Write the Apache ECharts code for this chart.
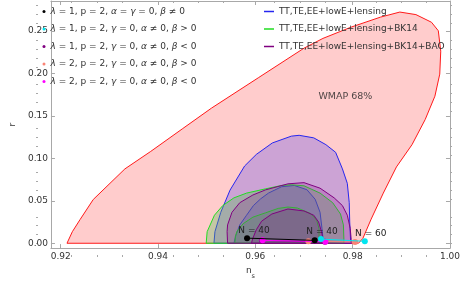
<!DOCTYPE html>
<html>
<head>
<meta charset="utf-8">
<script src="https://cdn.jsdelivr.net/npm/echarts@6/dist/echarts.min.js"></script>
<style>html,body{margin:0;padding:0;background:#fff;}#c{width:463px;height:285px;}</style>
</head>
<body>
<div id="c"></div>
<script>
// ---------- data ----------
const xMajorTicks = [0.92, 0.94, 0.96, 0.98, 1.00];
const xMinorTicks = [0.925, 0.93, 0.935, 0.945, 0.95, 0.955, 0.965, 0.97, 0.975, 0.985, 0.99, 0.995];
const yMajorTicks = [0.00, 0.05, 0.10, 0.15, 0.20, 0.25];
const yMinorTicks = [0.01, 0.02, 0.03, 0.04, 0.06, 0.07, 0.08, 0.09, 0.11, 0.12, 0.13, 0.14,
                     0.16, 0.17, 0.18, 0.19, 0.21, 0.22, 0.23, 0.24, 0.26, 0.27, 0.28];

// contours: [n_s, r]
const wmap68 = [[0.9213,0.000],[0.9224,0.0136],[0.9240,0.028],[0.9267,0.0515],[0.9332,0.0875],[0.9385,0.108],
  [0.9451,0.135],[0.9510,0.159],[0.9607,0.195],[0.9700,0.2295],[0.9739,0.241],[0.9798,0.2545],[0.9857,0.266],
  [0.9897,0.272],[0.9930,0.269],[0.9962,0.260],[0.9976,0.250],[0.9981,0.226],[0.9979,0.199],[0.9969,0.173],
  [0.9949,0.1455],[0.9922,0.116],[0.9890,0.0898],[0.9863,0.059],[0.9838,0.0284],[0.9821,0.0057],[0.9812,0.000]];
const planckOuter = [[0.9515,0.0],[0.9517,0.0136],[0.9529,0.0364],[0.9548,0.0625],[0.9578,0.0909],[0.9602,0.1045],
  [0.9635,0.118],[0.9674,0.126],[0.9690,0.127],[0.9720,0.124],[0.9745,0.116],[0.9765,0.107],[0.9779,0.0875],
  [0.9789,0.0705],[0.9793,0.0477],[0.9794,0.025],[0.9796,0.0]];
const planckInner = [[0.9556,0.0],[0.9560,0.009],[0.9568,0.0216],[0.9582,0.033],[0.9596,0.0443],[0.9611,0.0523],
  [0.9627,0.059],[0.9654,0.0665],[0.9680,0.068],[0.9706,0.063],[0.9723,0.0517],[0.9733,0.0364],[0.9737,0.0174],
  [0.9739,0.006],[0.9740,0.0]];
const bk14Outer = [[0.9499,0.0],[0.9501,0.0136],[0.9516,0.033],[0.9533,0.0443],[0.9556,0.0534],[0.9582,0.059],
  [0.9621,0.064],[0.9654,0.068],[0.9674,0.0688],[0.9700,0.0676],[0.9733,0.059],[0.9759,0.0477],[0.9775,0.0344],
  [0.9781,0.0216],[0.9782,0.0045],[0.9782,0.0]];
const bk14Inner = [[0.9558,0.0],[0.9559,0.008],[0.9562,0.0136],[0.9575,0.023],[0.9595,0.0307],[0.9621,0.0358],
  [0.9647,0.041],[0.9667,0.0426],[0.9686,0.0415],[0.9713,0.0352],[0.9726,0.0273],[0.9731,0.017],[0.9731,0.0068],[0.9731,0.0]];
const baoOuter = [[0.9543,0.0],[0.9542,0.0136],[0.9543,0.0216],[0.9552,0.0364],[0.9568,0.0477],[0.9595,0.0568],
  [0.9621,0.0628],[0.9667,0.0699],[0.9700,0.0713],[0.9733,0.0648],[0.9762,0.0534],[0.9779,0.0443],[0.9789,0.033],
  [0.9795,0.0174],[0.9797,0.0045],[0.9798,0.0]];
const baoInner = [[0.9592,0.0],[0.9595,0.006],[0.9602,0.0159],[0.9613,0.026],[0.9634,0.0344],[0.9667,0.0403],
  [0.9700,0.038],[0.9720,0.033],[0.9730,0.025],[0.9736,0.0136],[0.9739,0.0057],[0.9740,0.0]];

// model predictions (N = 40 .. 60)
const blackNs = [0.9583, 0.9722],   blackR = [0.0060, 0.0034];
const cyanNs = [0.9735, 0.9825],    cyanR = [0.0049, 0.0023];
const purpleNs = [0.9614, 0.9743],  purpleR = [0.0031, 0.0017];
const salmonNs = [0.9709, 0.9805],  salmonR = [0.0023, 0.0015];
const magentaNs = [0.9615, 0.9744], magentaR = [0.0034, 0.0019];
const blackLabels = ['N = 40', ''];
const cyanLabels = ['N = 40', 'N = 60'];
const wmapLabelPos = [[0.9785, 0.1727]];

const contourNames = ['TT,TE,EE+lowE+lensing', 'TT,TE,EE+lowE+lensing+BK14', 'TT,TE,EE+lowE+lensing+BK14+BAO'];
const pointNames = ['\u03bb = 1, p = 2, \u03b1 = \u03b3 = 0, \u03b2 \u2260 0',
                    '\u03bb = 1, p = 2, \u03b3 = 0, \u03b1 \u2260 0, \u03b2 > 0',
                    '\u03bb = 1, p = 2, \u03b3 = 0, \u03b1 \u2260 0, \u03b2 < 0',
                    '\u03bb = 2, p = 2, \u03b3 = 0, \u03b1 \u2260 0, \u03b2 > 0',
                    '\u03bb = 2, p = 2, \u03b3 = 0, \u03b1 \u2260 0, \u03b2 < 0'];

// ---------- chart ----------
const FONT = 'DejaVu Sans';
const FRAME = '#a8a8a8';
const TXT = '#333';
const X_MIN = 0.918, X_MAX = 1.0, Y_MIN = -0.0057, Y_MAX = 0.285;

function contourSeries(name, pts, fill, stroke, z) {
  return {
    type: 'custom', name, xAxisIndex: 0, yAxisIndex: 0, z, silent: true, animation: false,
    itemStyle: { color: stroke }, data: pts, encode: { x: 0, y: 1 },
    renderItem(params, api) {
      if (params.dataIndex !== 0) return null;
      return { type: 'polygon', shape: { points: pts.map(p => api.coord(p)) },
               style: { fill, stroke, lineWidth: 1 } };
    }
  };
}
function pointSeries(name, ns, r, color, labels, offsets, z) {
  return {
    type: 'line', name, xAxisIndex: 0, yAxisIndex: 0, z, animation: false, silent: true,
    symbol: 'circle', symbolSize: 6, showSymbol: true,
    itemStyle: { color }, lineStyle: { color, width: 1 },
    data: ns.map((x, i) => ({
      value: [x, r[i]],
      label: (labels && labels[i]) ? { show: true, formatter: labels[i], position: 'top', distance: 0,
        offset: offsets[i], color: '#222', fontSize: 9, fontFamily: FONT } : { show: false }
    }))
  };
}
function xAx(gi, pos, major, show) {
  return { type: 'value', gridIndex: gi, min: X_MIN, max: X_MAX, position: pos,
    axisLine: { show: show, onZero: false, lineStyle: { color: FRAME, width: 1 } },
    axisTick: { show: true, inside: true, length: major ? 4 : 2, customValues: major ? xMajorTicks : xMinorTicks,
      lineStyle: { color: FRAME } },
    axisLabel: { show: major && pos === 'bottom', customValues: xMajorTicks, formatter: v => v.toFixed(2),
      fontSize: 9, fontFamily: FONT, color: TXT, margin: 4, showMaxLabel: true, showMinLabel: true },
    splitLine: { show: false },
    name: (major && pos === 'bottom') ? '{n|n}{s|s}' : '', nameLocation: 'middle', nameGap: 15,
    nameTextStyle: { fontFamily: FONT, color: TXT, fontSize: 9,
      rich: { n: { fontSize: 9, fontFamily: FONT, color: TXT, verticalAlign: 'top' },
              s: { fontSize: 6.5, fontFamily: FONT, color: TXT, padding: [7, 0, 0, 0] } } }
  };
}
function yAx(gi, pos, major, show) {
  return { type: 'value', gridIndex: gi, min: Y_MIN, max: Y_MAX, position: pos,
    axisLine: { show: show, onZero: false, lineStyle: { color: FRAME, width: 1 } },
    axisTick: { show: true, inside: true, length: major ? 4 : 2, customValues: major ? yMajorTicks : yMinorTicks,
      lineStyle: { color: FRAME } },
    axisLabel: { show: major && pos === 'left', customValues: yMajorTicks, formatter: v => v.toFixed(2),
      fontSize: 9, fontFamily: FONT, color: TXT, margin: 3, showMaxLabel: true, showMinLabel: true },
    splitLine: { show: false },
    name: (major && pos === 'left') ? 'r' : '', nameLocation: 'middle', nameGap: 27, nameRotate: 90,
    nameTextStyle: { fontFamily: FONT, color: TXT, fontSize: 9 }
  };
}

const gridBox = { left: 36, right: 11, top: 1, bottom: 28 };
const italicGreek = s => s.replace(/([\u03bb\u03b1\u03b3\u03b2])/g, '{i|$1}');

const option = {
  backgroundColor: '#fff',
  animation: false,
  grid: [Object.assign({}, gridBox), Object.assign({}, gridBox)],
  xAxis: [xAx(0, 'bottom', true, true), xAx(0, 'top', true, true), xAx(1, 'bottom', false, false), xAx(1, 'top', false, false)],
  yAxis: [yAx(0, 'left', true, true), yAx(0, 'right', true, true), yAx(1, 'left', false, false), yAx(1, 'right', false, false)],
  legend: [
    { orient: 'vertical', left: 42.5, top: 5.5, padding: 0, itemGap: 5.5, itemWidth: 3, itemHeight: 3,
      selectedMode: false,
      data: pointNames.map(n => ({ name: n, icon: 'circle' })),
      formatter: italicGreek,
      textStyle: { fontFamily: FONT, fontSize: 9, color: TXT, lineHeight: 12,
        rich: { i: { fontFamily: FONT, fontSize: 9, color: TXT, fontStyle: 'italic', lineHeight: 12 } } } },
    { orient: 'vertical', left: 264, top: 5.5, padding: 0, itemGap: 5.5, itemWidth: 10, itemHeight: 1.5,
      selectedMode: false,
      data: contourNames.map(n => ({ name: n, icon: 'rect' })),
      textStyle: { fontFamily: FONT, fontSize: 9, color: TXT, lineHeight: 12 } }
  ],
  series: [
    contourSeries('WMAP', wmap68, 'rgba(255,0,0,0.2)', '#ff1a1a', 1),
    contourSeries(contourNames[0], planckOuter, 'rgba(100,80,230,0.33)', '#2626f0', 2),
    contourSeries(contourNames[0], planckInner, 'rgba(100,80,230,0.33)', '#2626f0', 2),
    contourSeries(contourNames[1], bk14Outer, 'rgba(90,190,90,0.35)', '#22dd22', 3),
    contourSeries(contourNames[1], bk14Inner, 'rgba(90,190,90,0.35)', '#22dd22', 3),
    contourSeries(contourNames[2], baoOuter, 'rgba(128,0,128,0.2)', '#800080', 4),
    contourSeries(contourNames[2], baoInner, 'rgba(128,0,128,0.2)', '#800080', 4),
    pointSeries(pointNames[3], salmonNs, salmonR, '#f98476', null, null, 10),
    pointSeries(pointNames[2], purpleNs, purpleR, '#800080', null, null, 10),
    pointSeries(pointNames[4], magentaNs, magentaR, '#ff00ff', null, null, 11),
    pointSeries(pointNames[0], blackNs, blackR, '#000000', blackLabels, [[7, 0], [0, 0]], 12),
    pointSeries(pointNames[1], cyanNs, cyanR, '#00e6f0', cyanLabels, [[1, 0], [6, 0]], 13),
    { type: 'scatter', xAxisIndex: 0, yAxisIndex: 0, z: 14, silent: true, symbolSize: 0,
      data: wmapLabelPos,
      label: { show: true, position: 'inside', formatter: 'WMAP 68%', fontFamily: FONT, fontSize: 9.5, color: '#222' } }
  ]
};
const chart = echarts.init(document.getElementById('c'), null, { renderer: 'canvas' });
chart.setOption(option);
</script>
</body>
</html>
